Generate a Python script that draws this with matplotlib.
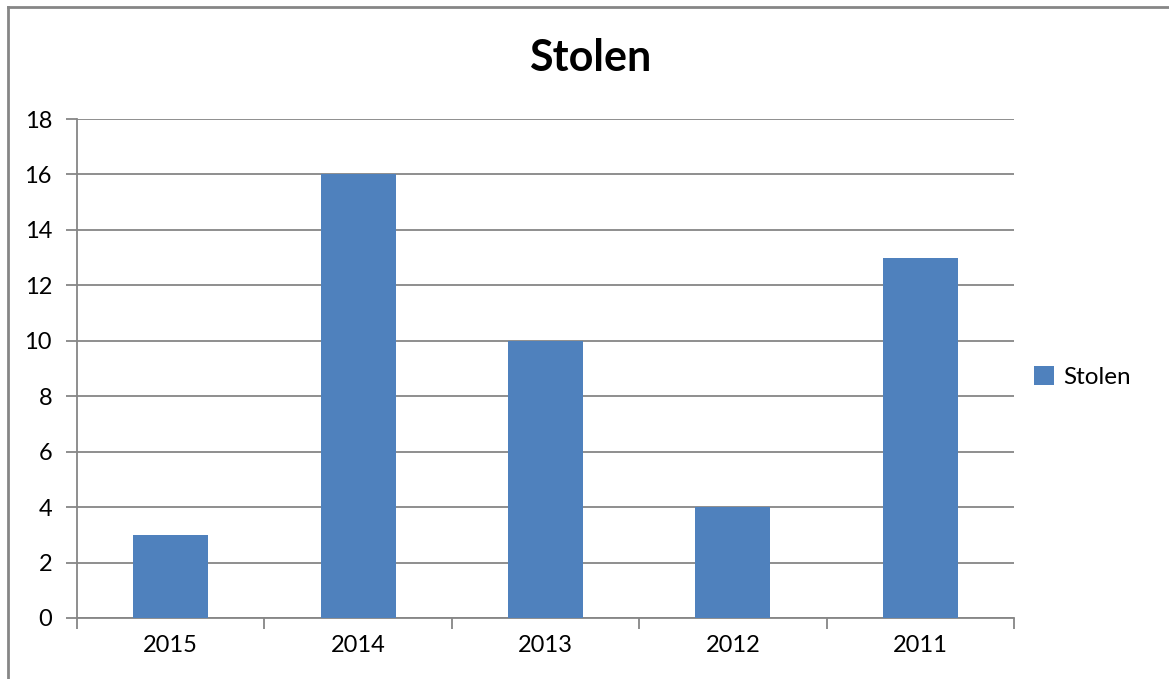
import matplotlib
matplotlib.use("Agg")
import matplotlib.pyplot as plt
from matplotlib.patches import Patch
from matplotlib.lines import Line2D

plt.rcParams["font.family"] = ["Lato", "DejaVu Sans"]

years = ["2015", "2014", "2013", "2012", "2011"]
stolen = [3, 16, 10, 4, 13]
y_ticks = [0, 2, 4, 6, 8, 10, 12, 14, 16, 18]

bar_color = "#4F81BD"
line_color = "#868686"

W, H = 1169, 679
fig = plt.figure(figsize=(W / 100, H / 100), dpi=100)
ax = fig.add_axes([77 / W, 1 - 618 / H, (1014 - 77) / W, (618 - 119) / H])

x = list(range(len(years)))
ax.bar(x, stolen, width=0.4, color=bar_color, zorder=3)

ax.set_xlim(-0.5, len(years) - 0.5)
ax.set_ylim(0, 18)
ax.set_yticks(y_ticks)
ax.set_yticklabels([str(v) for v in y_ticks], fontsize=17)
ax.yaxis.grid(True, color=line_color, linewidth=1.3, zorder=0)

# category labels between tick marks at boundaries
ax.set_xticks([i - 0.5 for i in range(len(years) + 1)])
ax.set_xticklabels([])
ax.set_xticks(x, minor=True)
ax.set_xticklabels(years, minor=True, fontsize=17)
ax.tick_params(axis="x", which="minor", length=0, pad=12)
ax.tick_params(axis="x", which="major", length=8, width=1.3, color=line_color, direction="out")
ax.tick_params(axis="y", length=8, width=1.3, color=line_color, direction="out", pad=10)

for side in ["top", "right"]:
    ax.spines[side].set_visible(False)
for side in ["left", "bottom"]:
    ax.spines[side].set_color(line_color)
    ax.spines[side].set_linewidth(1.3)

fig.text(590 / W, 1 - 58 / H, "Stolen", ha="center", va="center",
         fontsize=31, fontweight="bold")

handle = Patch(facecolor=bar_color, edgecolor="none")
fig.legend([handle], ["Stolen"], loc="center left", bbox_to_anchor=(1022 / W, 1 - 377 / H),
           frameon=False, fontsize=17.5, handlelength=0.8, handleheight=0.8,
           handletextpad=0.4, borderpad=0)

# outer chart border (only top and left visible in the crop)
fig.add_artist(Line2D([8 / W, 8 / W], [0, 1 - 7 / H], transform=fig.transFigure,
                      color=line_color, linewidth=2))
fig.add_artist(Line2D([8 / W, 1], [1 - 7 / H, 1 - 7 / H], transform=fig.transFigure,
                      color=line_color, linewidth=2))

fig.savefig("out.png", dpi=100)
